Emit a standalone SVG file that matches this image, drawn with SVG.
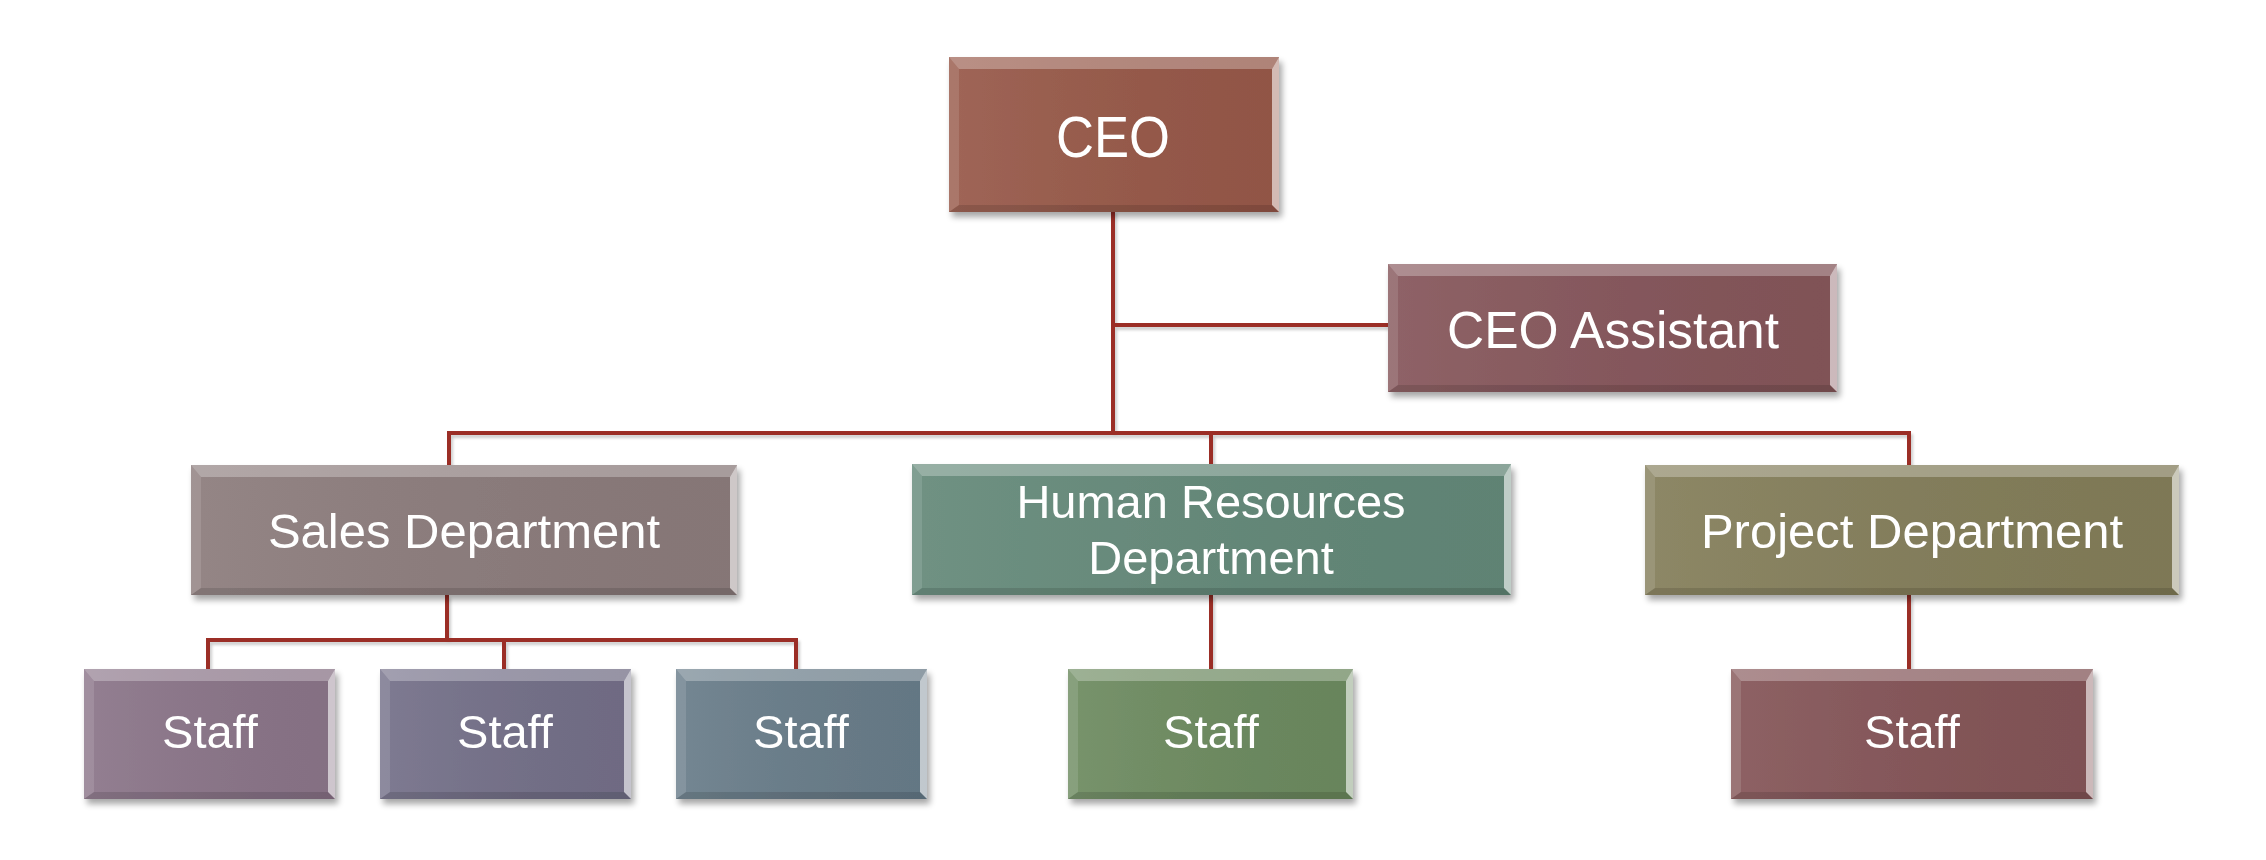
<svg xmlns="http://www.w3.org/2000/svg" width="2266" height="860" viewBox="0 0 2266 860">
<defs>
<filter id="sh" x="-10%" y="-10%" width="130%" height="140%">
<feGaussianBlur in="SourceAlpha" stdDeviation="3"/>
<feOffset dx="3" dy="5" result="b"/>
<feComponentTransfer><feFuncA type="linear" slope="0.35"/></feComponentTransfer>
<feMerge><feMergeNode/><feMergeNode in="SourceGraphic"/></feMerge>
</filter>
<filter id="lsh" x="-5%" y="-5%" width="110%" height="120%">
<feGaussianBlur in="SourceAlpha" stdDeviation="1.5"/>
<feOffset dx="2" dy="3"/>
<feComponentTransfer><feFuncA type="linear" slope="0.2"/></feComponentTransfer>
<feMerge><feMergeNode/><feMergeNode in="SourceGraphic"/></feMerge>
</filter>
<linearGradient id="gl" x1="0" y1="0" x2="1" y2="0">
<stop offset="0" stop-color="#fff" stop-opacity="0.08"/>
<stop offset="1" stop-color="#000" stop-opacity="0.04"/>
</linearGradient>
</defs>
<style>
.t{font-family:"Liberation Sans",Arial,sans-serif;fill:#fff;text-anchor:middle}
.top{fill:#fff;fill-opacity:0.28}
.lft{fill:#fff;fill-opacity:0.12}
.rgt{fill:#fff;fill-opacity:0.6}
.bot{fill:#000;fill-opacity:0.12}
.ov{fill:url(#gl)}
.c{fill:none;stroke:#9b2e26;stroke-width:4;stroke-linecap:square}
</style>
<rect width="2266" height="860" fill="#fff"/>
<g id="connectors" filter="url(#lsh)">
<path class="c" d="M1113,212 V433"/>
<path class="c" d="M1113,325 H1386"/>
<path class="c" d="M449,463 V433 H1909 V463"/>
<path class="c" d="M1211,433 V462"/>
<path class="c" d="M447,597 V640"/>
<path class="c" d="M208,667 V640 H796 V667"/>
<path class="c" d="M504,640 V667"/>
<path class="c" d="M1211,597 V667"/>
<path class="c" d="M1909,597 V667"/>
</g>
<g id="ceo" filter="url(#sh)">
<rect x="949" y="57" width="330" height="155" fill="#975848"/>
<rect class="ov" x="949" y="57" width="330" height="155"/>
<polygon class="top" points="949,57 1279,57 1272,69 959,69"/>
<polygon class="lft" points="949,57 959,69 959,205 949,212"/>
<polygon class="rgt" points="1279,57 1279,212 1272,205 1272,69"/>
<polygon class="bot" points="949,212 959,205 1272,205 1279,212"/>
<text class="t" x="1113" y="157" font-size="57" textLength="114" lengthAdjust="spacingAndGlyphs">CEO</text>
</g>
<g id="ceo-assistant" filter="url(#sh)">
<rect x="1388" y="264" width="449" height="128" fill="#85555a"/>
<rect class="ov" x="1388" y="264" width="449" height="128"/>
<polygon class="top" points="1388,264 1837,264 1830,276 1398,276"/>
<polygon class="lft" points="1388,264 1398,276 1398,385 1388,392"/>
<polygon class="rgt" points="1837,264 1837,392 1830,385 1830,276"/>
<polygon class="bot" points="1388,392 1398,385 1830,385 1837,392"/>
<text class="t" x="1613" y="348" font-size="52" textLength="332" lengthAdjust="spacingAndGlyphs">CEO Assistant</text>
</g>
<g id="sales" filter="url(#sh)">
<rect x="191" y="465" width="546" height="130" fill="#8b7b7b"/>
<rect class="ov" x="191" y="465" width="546" height="130"/>
<polygon class="top" points="191,465 737,465 730,477 201,477"/>
<polygon class="lft" points="191,465 201,477 201,588 191,595"/>
<polygon class="rgt" points="737,465 737,595 730,588 730,477"/>
<polygon class="bot" points="191,595 201,588 730,588 737,595"/>
<text class="t" x="464" y="548" font-size="49">Sales Department</text>
</g>
<g id="hr" filter="url(#sh)">
<rect x="912" y="464" width="599" height="131" fill="#638878"/>
<rect class="ov" x="912" y="464" width="599" height="131"/>
<polygon class="top" points="912,464 1511,464 1504,476 922,476"/>
<polygon class="lft" points="912,464 922,476 922,588 912,595"/>
<polygon class="rgt" points="1511,464 1511,595 1504,588 1504,476"/>
<polygon class="bot" points="912,595 922,588 1504,588 1511,595"/>
<text class="t" x="1211" y="518" font-size="47">Human Resources</text>
<text class="t" x="1211" y="574" font-size="47">Department</text>
</g>
<g id="project" filter="url(#sh)">
<rect x="1645" y="465" width="534" height="130" fill="#837d59"/>
<rect class="ov" x="1645" y="465" width="534" height="130"/>
<polygon class="top" points="1645,465 2179,465 2172,477 1655,477"/>
<polygon class="lft" points="1645,465 1655,477 1655,588 1645,595"/>
<polygon class="rgt" points="2179,465 2179,595 2172,588 2172,477"/>
<polygon class="bot" points="1645,595 1655,588 2172,588 2179,595"/>
<text class="t" x="1912" y="548" font-size="49">Project Department</text>
</g>
<g id="staff-1" filter="url(#sh)">
<rect x="84" y="669" width="251" height="130" fill="#8a7488"/>
<rect class="ov" x="84" y="669" width="251" height="130"/>
<polygon class="top" points="84,669 335,669 328,681 94,681"/>
<polygon class="lft" points="84,669 94,681 94,792 84,799"/>
<polygon class="rgt" points="335,669 335,799 328,792 328,681"/>
<polygon class="bot" points="84,799 94,792 328,792 335,799"/>
<text class="t" x="210" y="748" font-size="47">Staff</text>
</g>
<g id="staff-2" filter="url(#sh)">
<rect x="380" y="669" width="251" height="130" fill="#736f88"/>
<rect class="ov" x="380" y="669" width="251" height="130"/>
<polygon class="top" points="380,669 631,669 624,681 390,681"/>
<polygon class="lft" points="380,669 390,681 390,792 380,799"/>
<polygon class="rgt" points="631,669 631,799 624,792 624,681"/>
<polygon class="bot" points="380,799 390,792 624,792 631,799"/>
<text class="t" x="505" y="748" font-size="47">Staff</text>
</g>
<g id="staff-3" filter="url(#sh)">
<rect x="676" y="669" width="251" height="130" fill="#687c89"/>
<rect class="ov" x="676" y="669" width="251" height="130"/>
<polygon class="top" points="676,669 927,669 920,681 686,681"/>
<polygon class="lft" points="676,669 686,681 686,792 676,799"/>
<polygon class="rgt" points="927,669 927,799 920,792 920,681"/>
<polygon class="bot" points="676,799 686,792 920,792 927,799"/>
<text class="t" x="801" y="748" font-size="47">Staff</text>
</g>
<g id="staff-4" filter="url(#sh)">
<rect x="1068" y="669" width="285" height="130" fill="#6c8a5f"/>
<rect class="ov" x="1068" y="669" width="285" height="130"/>
<polygon class="top" points="1068,669 1353,669 1346,681 1078,681"/>
<polygon class="lft" points="1068,669 1078,681 1078,792 1068,799"/>
<polygon class="rgt" points="1353,669 1353,799 1346,792 1346,681"/>
<polygon class="bot" points="1068,799 1078,792 1346,792 1353,799"/>
<text class="t" x="1211" y="748" font-size="47">Staff</text>
</g>
<g id="staff-5" filter="url(#sh)">
<rect x="1731" y="669" width="362" height="130" fill="#845457"/>
<rect class="ov" x="1731" y="669" width="362" height="130"/>
<polygon class="top" points="1731,669 2093,669 2086,681 1741,681"/>
<polygon class="lft" points="1731,669 1741,681 1741,792 1731,799"/>
<polygon class="rgt" points="2093,669 2093,799 2086,792 2086,681"/>
<polygon class="bot" points="1731,799 1741,792 2086,792 2093,799"/>
<text class="t" x="1912" y="748" font-size="47">Staff</text>
</g>
</svg>
